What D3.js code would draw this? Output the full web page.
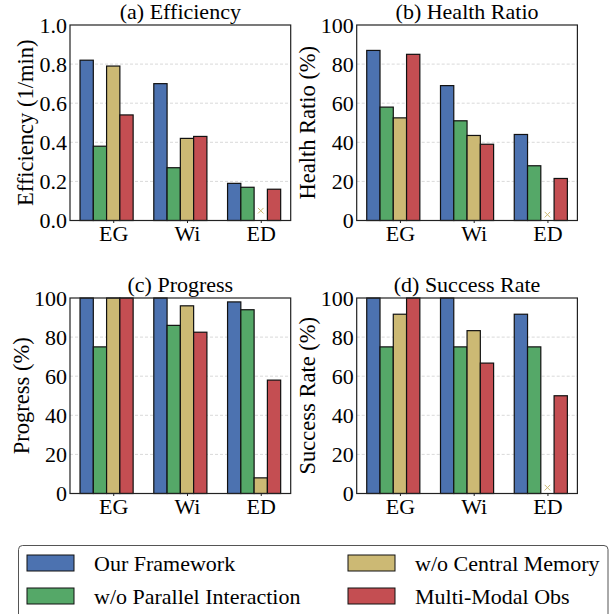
<!DOCTYPE html>
<html><head><meta charset="utf-8">
<script src="https://cdn.jsdelivr.net/npm/d3@7"></script>
</head><body style="margin:0;background:#fff">
<svg id="chart" width="613" height="614"></svg>
<script>
// ---------- data ----------
const categories = ["EG", "Wi", "ED"];
const seriesNames = ["Our Framework", "w/o Parallel Interaction", "w/o Central Memory", "Multi-Modal Obs"];
// values per series (rows) for EG, Wi, ED; null = missing (drawn as an x marker)
const efficiency = [
  [0.82, 0.70, 0.19],
  [0.38, 0.27, 0.17],
  [0.79, 0.42, null],
  [0.54, 0.43, 0.16]
];
const healthRatio = [
  [87, 69, 44],
  [58, 51, 28],
  [52.5, 43.5, null],
  [85, 39, 21.5]
];
const progress = [
  [100, 100, 98],
  [75, 86, 94],
  [100, 96, 8],
  [100, 82.5, 58]
];
const successRate = [
  [100, 100, 91.7],
  [75, 75, 75],
  [91.7, 83.3, null],
  [100, 66.7, 50]
];
const efficiencyTicks = [0, 0.2, 0.4, 0.6, 0.8, 1.0];
const percentTicks = [0, 20, 40, 60, 80, 100];

// ---------- styles ----------
const colors = ["#4C72B0", "#55A868", "#CCB974", "#C44E52"];
const FAMILY = "Liberation Serif";
const FONT = 22;

const svg = d3.select("#chart");
const W = 220.7, H = 195.5, bw = 0.18;

const panels = [
  {title: "(a) Efficiency", ylabel: "Efficiency (1/min)", data: efficiency, max: 1, ticks: efficiencyTicks, fmt: d3.format(".1f"), left: 70, top: 25, missY: 0.05, labelOff: 37},
  {title: "(b) Health Ratio", ylabel: "Health Ratio (%)", data: healthRatio, max: 100, ticks: percentTicks, fmt: d3.format("d"), left: 356.7, top: 25, missY: 3, labelOff: 41.5},
  {title: "(c) Progress", ylabel: "Progress (%)", data: progress, max: 100, ticks: percentTicks, fmt: d3.format("d"), left: 70, top: 298, missY: 3, labelOff: 41.5},
  {title: "(d) Success Rate", ylabel: "Success Rate (%)", data: successRate, max: 100, ticks: percentTicks, fmt: d3.format("d"), left: 356.7, top: 298, missY: 3, labelOff: 41.5}
];

function styleText(sel, size) {
  sel.attr("font-family", FAMILY).attr("font-size", size || FONT).attr("fill", "#000");
}

panels.forEach(p => {
  const lo = -bw / 2, hi = 2 + 3 * bw + bw / 2, m = (hi - lo) * 0.05;
  const x = d3.scaleLinear().domain([lo - m, hi + m]).range([p.left, p.left + W]);
  const y = d3.scaleLinear().domain([0, p.max]).range([p.top + H, p.top]);
  const g = svg.append("g");

  // grid
  g.selectAll("line.grid").data(p.ticks.filter(t => t > 0 && t < p.max)).join("line")
    .attr("x1", p.left).attr("x2", p.left + W)
    .attr("y1", d => y(d)).attr("y2", d => y(d))
    .attr("stroke", "#cfcfcf").attr("stroke-width", 0.8).attr("stroke-dasharray", "3,2");

  // bars
  const barData = [];
  p.data.forEach((row, i) => row.forEach((v, j) => barData.push({i, j, v})));
  g.selectAll("rect.bar").data(barData.filter(d => d.v != null)).join("rect")
    .attr("x", d => x(d.j + d.i * bw - bw / 2))
    .attr("width", d => x(bw) - x(0))
    .attr("y", d => y(d.v))
    .attr("height", d => y(0) - y(d.v))
    .attr("fill", d => colors[d.i])
    .attr("stroke", "#111").attr("stroke-width", 1.2);

  // missing markers
  const sym = d3.symbol().type(d3.symbolX).size(22);
  g.selectAll("path.miss").data(barData.filter(d => d.v == null)).join("path")
    .attr("d", sym)
    .attr("transform", d => `translate(${x(d.j + d.i * bw)},${y(p.missY)})`)
    .attr("fill", "none").attr("stroke", d => colors[d.i]).attr("stroke-width", 1);

  // frame
  g.append("rect").attr("x", p.left).attr("y", p.top).attr("width", W).attr("height", H)
    .attr("fill", "none").attr("stroke", "#222").attr("stroke-width", 1.2);

  // y axis
  const ya = g.append("g").attr("transform", `translate(${p.left},0)`)
    .call(d3.axisLeft(y).tickValues(p.ticks).tickFormat(p.fmt).tickSize(0).tickPadding(3));
  ya.attr("font-family", FAMILY).attr("font-size", FONT);
  ya.select(".domain").remove();
  styleText(ya.selectAll("text"));

  // x axis
  const xa = g.append("g").attr("transform", `translate(0,${p.top + H})`)
    .call(d3.axisBottom(x).tickValues(categories.map((c, j) => j + 2 * bw))
      .tickFormat((d, k) => categories[k]).tickSize(2.5).tickPadding(2));
  xa.attr("font-family", FAMILY).attr("font-size", FONT);
  xa.select(".domain").remove();
  xa.selectAll("line").attr("stroke", "#222");
  styleText(xa.selectAll("text"));

  // title
  styleText(g.append("text").attr("x", p.left + W / 2).attr("y", p.top - 6)
    .attr("text-anchor", "middle").text(p.title));

  // y label
  styleText(g.append("text").attr("transform", `translate(${p.left - p.labelOff},${p.top + H / 2}) rotate(-90)`)
    .attr("text-anchor", "middle").text(p.ylabel), 22.5);
});

// legend
const leg = svg.append("g");
leg.append("rect").attr("x", 18.5).attr("y", 545.5).attr("width", 589.5).attr("height", 90)
  .attr("rx", 4).attr("fill", "#fff").attr("stroke", "#555").attr("stroke-width", 1);
const legPos = [[27, 563], [27, 596], [348, 563], [348, 596]];
[0, 1, 2, 3].forEach((s, k) => {
  const [lx, ly] = legPos[k];
  leg.append("rect").attr("x", lx).attr("y", ly - 8).attr("width", 47).attr("height", 16)
    .attr("fill", colors[s]).attr("stroke", "#111").attr("stroke-width", 1);
  styleText(leg.append("text").attr("x", lx + 67).attr("y", ly).attr("dy", "0.35em")
    .text(seriesNames[s]));
});
</script>
</body></html>
